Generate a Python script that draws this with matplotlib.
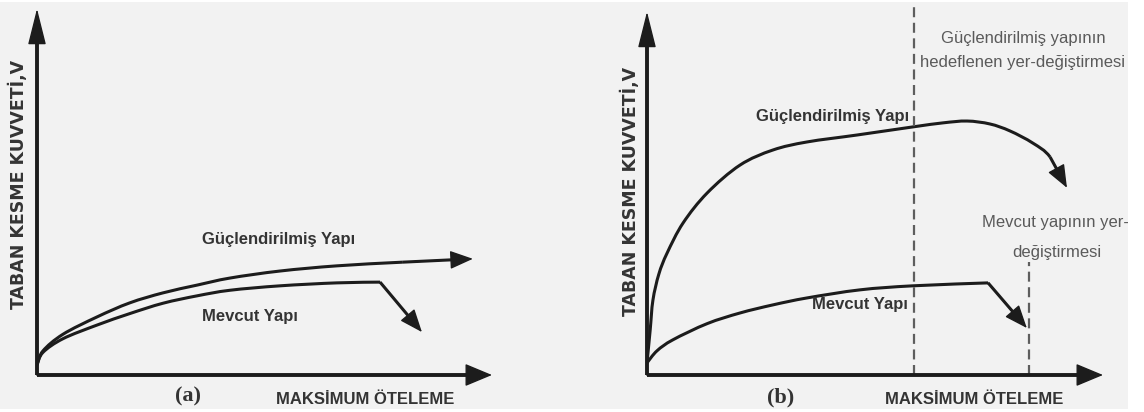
import numpy as np
import matplotlib
matplotlib.use("Agg")
import matplotlib.pyplot as plt
from matplotlib.patches import Rectangle, PathPatch
from matplotlib.path import Path

# ---- curve data (drift in %, base shear in %) ----
a_str_x = [0, 1.3, 5.7, 13.2, 20.4, 27.7, 35.2, 42.4, 53.4, 65.9, 80.4]
a_str_y = [2.7, 6.5, 11.0, 15.7, 19.5, 22.2, 24.3, 26.2, 28.1, 29.5, 30.5]
a_str_tip = (95.8, 31.4)

a_ex_x = [0, 1.3, 5.7, 13.2, 20.4, 27.7, 35.2, 42.4, 53.4, 65.9, 75.4]
a_ex_y = [2.7, 6.1, 9.8, 13.5, 16.6, 19.4, 21.4, 22.9, 24.1, 24.9, 25.1]
a_ex_tip = (84.6, 11.6)

b_str_x = [0, 0.7, 1.3, 2.6, 4.4, 7.9, 13.2, 20.4, 27.6, 35.1, 46.1, 58.3,
           64.9, 70.2, 75.2, 79.6, 84.6, 88.4]
b_str_y = [3.3, 12.3, 20.4, 27.5, 33.2, 41.4, 49.6, 57.2, 61.3, 63.5, 65.4,
           67.6, 68.7, 69.2, 68.4, 66.5, 63.2, 59.4]
b_str_tip = (92.1, 51.0)

b_ex_x = [0, 2.2, 5.7, 13.2, 20.4, 27.6, 35.1, 46.7, 58.3, 74.8]
b_ex_y = [3.3, 6.6, 9.6, 14.0, 16.9, 19.1, 21.0, 23.2, 24.3, 25.1]
b_ex_tip = (83.3, 12.8)

b_target_drift = 58.6
b_existing_drift = 83.8
b_existing_top = 30.8

W, H = 1144, 412
INK = "#1c1c1c"
LABEL = "#343434"
NOTE = "#5a5a5a"
MS = 10  # arrow mutation scale (points)

fig = plt.figure(figsize=(W / 100, H / 100), dpi=100)
fig.patch.set_facecolor("white")
bg = Rectangle((0, 3 / H), 1128 / W, 407 / H, transform=fig.transFigure,
               facecolor="#f2f2f2", edgecolor="none", zorder=0)
fig.add_artist(bg)


def px_axes(left, right, bottom, top):
    ax = fig.add_axes([left / W, 1 - bottom / H, (right - left) / W,
                       (bottom - top) / H])
    ax.set_xlim(0, 100)
    ax.set_ylim(0, 100)
    ax.axis("off")
    ax.patch.set_alpha(0)
    return ax


def arrow(ax, tail, tip, hl_px, hw_px, lw, color=INK):
    T = ax.transData
    p0 = T.transform(tail)
    p1 = T.transform(tip)
    d = (p1 - p0) / np.hypot(*(p1 - p0))
    base = T.inverted().transform(p1 - d * hl_px * 0.6)
    ax.plot([tail[0], base[0]], [tail[1], base[1]], lw=lw, color=color,
            solid_capstyle="butt", clip_on=False)
    k = MS * 100 / 72
    ax.annotate("", xy=tip, xytext=tail, annotation_clip=False,
                arrowprops=dict(arrowstyle=f"-|>,head_length={hl_px / k:.3f},"
                                f"head_width={hw_px / k:.3f}",
                                mutation_scale=MS, lw=1.0, color=color,
                                shrinkA=0, shrinkB=0))


def axes_arrows(ax):
    arrow(ax, (0, 0), (100, 0), 24, 10, 2.8)
    arrow(ax, (0, 0), (0, 99), 32, 8, 2.8)


def smooth_path(xs, ys, after=None):
    """Cubic path through every point (Catmull-Rom tangents)."""
    P = np.column_stack([xs, ys]).astype(float)
    verts, codes = [P[0]], [Path.MOVETO]
    n = len(P)
    for i in range(n - 1):
        p0 = P[i - 1] if i > 0 else P[i]
        p1, p2 = P[i], P[i + 1]
        if i + 2 < n:
            p3 = P[i + 2]
        elif after is not None:
            p3 = np.asarray(after, float)
        else:
            p3 = P[i + 1]
        verts += [p1 + (p2 - p0) / 6, p2 - (p3 - p1) / 6, p2]
        codes += [Path.CURVE4] * 3
    return Path(verts, codes)


def curve(ax, xs, ys, tip, corner=False, lw=2.2):
    path = smooth_path(xs, ys, None if corner else tip)
    ax.add_patch(PathPatch(path, fill=False, edgecolor=INK, lw=lw,
                           capstyle="butt", joinstyle="round"))
    arrow(ax, (xs[-1], ys[-1]), tip, 20, 8, lw)


def ftext(px, py, s, **kw):
    t = fig.text(px / W, 1 - py / H, s, ha="center", va="center", **kw)
    t.set_clip_path(bg)
    return t


bold = dict(family=["Liberation Sans", "DejaVu Sans"], fontweight="bold",
            color=LABEL, fontsize=12)
note = dict(family=["Liberation Sans", "DejaVu Sans"], color=NOTE, fontsize=12)
ylab = dict(family=["DejaVu Sans"], fontweight="bold", color=LABEL,
            fontsize=12.5, rotation=90)
tag = dict(family=["Liberation Serif", "DejaVu Serif"], fontweight="bold",
           color=LABEL, fontsize=16)

# ---- panel (a) ----
ax_a = px_axes(37, 492, 375, 5)
axes_arrows(ax_a)
curve(ax_a, a_str_x, a_str_y, a_str_tip)
curve(ax_a, a_ex_x, a_ex_y, a_ex_tip, corner=True)
ftext(279, 240, "Güçlendirilmiş Yapı", **bold)
ftext(250, 317, "Mevcut Yapı", **bold)
ftext(188, 396, "(a)", **tag)
ftext(365, 400, "MAKSİMUM ÖTELEME", **bold)
ftext(18, 184, "TABAN KESME KUVVETİ,V", **ylab)

# ---- panel (b) ----
ax_b = px_axes(647, 1103, 375, 8)
ax_b.plot([b_target_drift, b_target_drift], [0, 100.8], color="#5e5e5e",
          lw=1.6, ls=(0, (4.5, 2.5)), clip_on=False)
ax_b.plot([b_existing_drift, b_existing_drift], [0, b_existing_top],
          color="#5e5e5e", lw=1.6, ls=(0, (4.5, 2.5)), clip_on=False)
axes_arrows(ax_b)
curve(ax_b, b_str_x, b_str_y, b_str_tip)
curve(ax_b, b_ex_x, b_ex_y, b_ex_tip, corner=True)
ftext(833, 117, "Güçlendirilmiş Yapı", **bold)
ftext(860, 305, "Mevcut Yapı", **bold)
ftext(781, 397, "(b)", **tag)
ftext(974, 400, "MAKSİMUM ÖTELEME", **bold)
ftext(630, 191, "TABAN KESME KUVVETİ,V", **ylab)
ftext(1023, 38, "Güçlendirilmiş yapının", **note)
ftext(1023, 62, "hedeflenen yer-değiştirmesi", **note)
ftext(1055, 223, "Mevcut yapının yer-", **note)
ftext(1057, 252, "değiştirmesi", **note)

fig.savefig("out.png", dpi=100)
